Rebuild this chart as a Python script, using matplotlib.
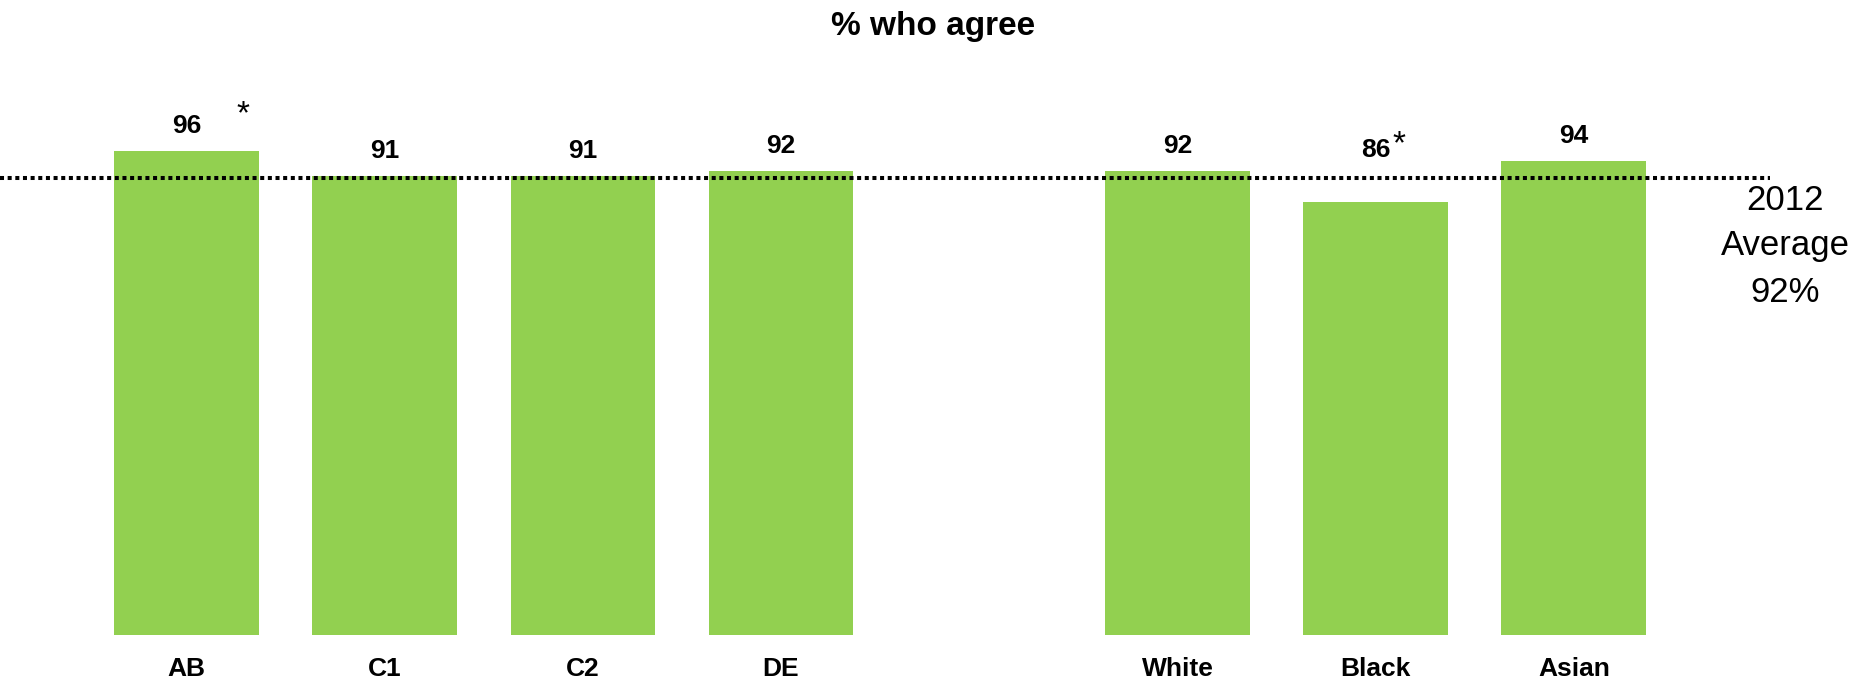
import numpy as np
import matplotlib
matplotlib.use("Agg")
import matplotlib.pyplot as plt

plt.rcParams['font.family'] = ['Liberation Sans', 'DejaVu Sans']

# Dados
grupos = ["AB", "C1", "C2", "DE", "White", "Black", "Asian"]
valores = [96, 91, 91, 92, 92, 86, 94]
media_2012 = 90.6  # posição da linha pontilhada
texto_media = "2012\nAverage\n92%"

# Posições: dois blocos (classe social / etnia) com um espaço entre eles
posicoes = np.array([0, 1, 2, 3, 5, 6, 7])

fig = plt.figure(figsize=(18.56, 6.86), dpi=100)
ax = fig.add_axes([0, 51 / 686, 1770 / 1856, 504 / 686])

ax.bar(posicoes, valores, width=0.73, color="#92D050", edgecolor="none")

# Linha da média
ax.axhline(media_2012, color="black", linewidth=2.9, linestyle=(0, (1, 0.9)))

# Rótulos de valores (o do "Black" fica mais alto, acima da linha)
for x, v, g in zip(posicoes, valores, grupos):
    dy = 37 if g == "Black" else 18
    ax.annotate(str(v), (x, v), xytext=(0, dy), textcoords="offset points",
                ha="center", va="center", fontsize=19, fontweight="bold")

# Asteriscos
ax.annotate("*", (posicoes[0], valores[0]), xytext=(41, 26), textcoords="offset points",
            ha="center", va="center", fontsize=24)
ax.annotate("*", (posicoes[5], valores[5]), xytext=(17, 41), textcoords="offset points",
            ha="center", va="center", fontsize=24)

ax.set_xlim(-0.941, 7.99)
ax.set_ylim(0, 100)
ax.set_xticks(posicoes)
ax.set_xticklabels(grupos, fontsize=19, fontweight="bold")
ax.tick_params(axis="x", length=0, pad=16)
ax.set_yticks([])
for s in ax.spines.values():
    s.set_visible(False)

fig.text(933 / 1856, 1 - 27 / 686, "% who agree", ha="center", va="center",
         fontsize=24, fontweight="bold")
fig.text(1785 / 1856, 1 - 246 / 686, texto_media, ha="center", va="center",
         fontsize=25, linespacing=1.5, multialignment="center")

fig.savefig("out.png", dpi=100)
